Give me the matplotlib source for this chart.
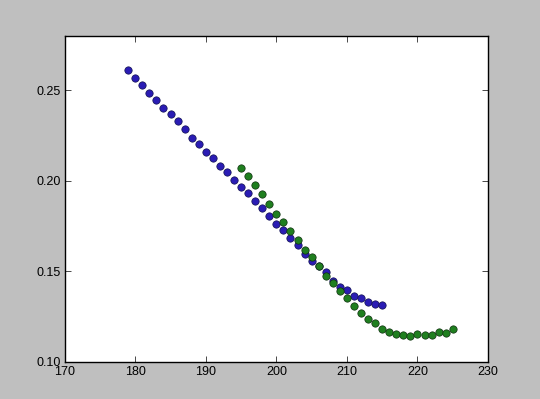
import matplotlib
matplotlib.use("Agg")
import matplotlib.pyplot as plt

blue_x = list(range(179, 216))
blue_y = [0.2612, 0.2569, 0.2527, 0.2485, 0.2446, 0.2403, 0.2366, 0.2330, 0.2287,
          0.2234, 0.2203, 0.2160, 0.2127, 0.2079, 0.2046, 0.2004, 0.1967, 0.1930,
          0.1888, 0.1849, 0.1808, 0.1761, 0.1727, 0.1685, 0.1646, 0.1597, 0.1558,
          0.1527, 0.1494, 0.1446, 0.1413, 0.1398, 0.1366, 0.1352, 0.1333, 0.1319,
          0.1315]
green_x = list(range(195, 226))
green_y = [0.2072, 0.2024, 0.1976, 0.1924, 0.1873, 0.1818, 0.1775, 0.1720, 0.1672,
           0.1620, 0.1578, 0.1530, 0.1475, 0.1436, 0.1390, 0.1352, 0.1309, 0.1272,
           0.1239, 0.1215, 0.1182, 0.1168, 0.1155, 0.1149, 0.1145, 0.1155, 0.1149,
           0.1149, 0.1168, 0.1162, 0.1182]
x_ticks = [170, 180, 190, 200, 210, 220, 230]
y_ticks = [0.10, 0.15, 0.20, 0.25]

plt.rcParams['font.family'] = ['Liberation Sans', 'DejaVu Sans']
fig = plt.figure(figsize=(5.40, 3.99), dpi=100, facecolor='#bfbfbf')
ax = fig.add_axes([64.7/540, 37/399, (488-64.7)/540, (362-35.7)/399])
ax.set_facecolor('white')
ax.scatter(blue_x, blue_y, s=28, c='#2a1cb4', edgecolors='#101050', linewidths=0.5, zorder=2)
ax.scatter(green_x, green_y, s=28, c='#1f7f1f', edgecolors='#0f300f', linewidths=0.5, zorder=3)
ax.set_xlim(170, 230)
ax.set_ylim(0.10, 0.28)
ax.set_xticks(x_ticks)
ax.set_yticks(y_ticks)
ax.set_xticklabels([str(t) for t in x_ticks])
ax.set_yticklabels(['%.2f' % t for t in y_ticks])
ax.tick_params(direction='in', top=True, right=True, length=4, width=0.5,
               labelsize=9, pad=3)
for sp in ax.spines.values():
    sp.set_linewidth(1.0)
fig.savefig('out.png', dpi=100, facecolor=fig.get_facecolor())
